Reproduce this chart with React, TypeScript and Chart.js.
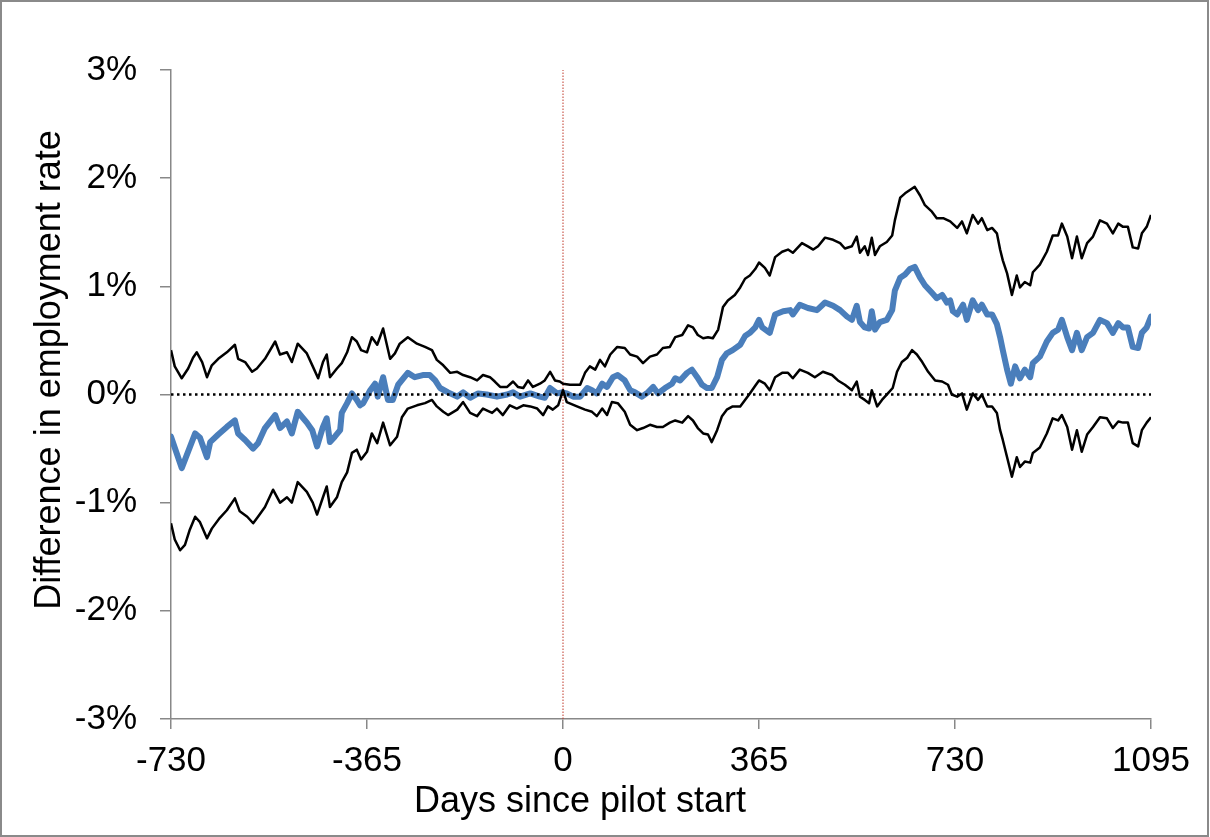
import { useEffect, useRef } from 'react';
import { Chart, registerables } from 'chart.js';

Chart.register(...registerables);

const FONT = '"Liberation Sans", Arial, sans-serif';

const xTickValues = [-730, -365, 0, 365, 730, 1095];
const yTickValues = [-3, -2, -1, 0, 1, 2, 3];
const xTitle = 'Days since pilot start';
const yTitle = 'Difference in employment rate';

const estDays = [
  -730, -710, -685, -676, -663, -657, -642, -626, -611, -605, -592, -577, -568, -555, -536, -527, -514, -505, -494, -477,
  -467, -458, -447, -440, -434, -425, -415, -412, -402, -393, -384, -378, -372, -359, -350, -345, -335, -326, -317, -307,
  -289, -276, -261, -248, -238, -229, -214, -197, -186, -173, -158, -142, -123, -104, -93, -80, -61, -43, -34, -24,
  -11, -2, 7, 19, 32, 45, 54, 63, 73, 82, 93, 102, 115, 125, 134, 147, 158, 168, 177, 190,
  203, 209, 218, 231, 240, 250, 259, 268, 277, 287, 296, 305, 316, 330, 339, 348, 358, 365, 371, 385,
  395, 410, 423, 428, 441, 456, 473, 488, 503, 516, 529, 538, 547, 553, 562, 570, 575, 581, 590, 603,
  613, 618, 628, 637, 646, 655, 665, 674, 687, 696, 706, 715, 721, 726, 734, 745, 752, 763, 773, 780,
  790, 799, 808, 814, 819, 827, 834, 842, 851, 860, 870, 875, 888, 901, 912, 922, 929, 939, 948, 957,
  966, 976, 987, 1000, 1013, 1024, 1034, 1043, 1052, 1061, 1071, 1078, 1087, 1095,
];
const estValues = [
  -0.39, -0.68, -0.36, -0.40, -0.58, -0.44, -0.37, -0.30, -0.24, -0.36, -0.42, -0.50, -0.45, -0.31, -0.19, -0.31, -0.25, -0.36, -0.16, -0.26,
  -0.33, -0.48, -0.30, -0.22, -0.44, -0.39, -0.33, -0.17, -0.08, 0.01, -0.05, -0.10, -0.08, 0.04, 0.10, -0.02, 0.16, -0.05, -0.05, 0.09,
  0.20, 0.16, 0.18, 0.18, 0.13, 0.06, 0.02, -0.02, 0.02, -0.03, 0.01, 0.00, -0.02, 0.00, 0.02, -0.02, 0.01, -0.02, -0.03, 0.06,
  0.01, 0.02, 0.01, -0.02, -0.02, 0.06, 0.04, 0.01, 0.10, 0.07, 0.16, 0.18, 0.13, 0.04, 0.02, -0.02, 0.02, 0.07, 0.01, 0.06,
  0.10, 0.15, 0.13, 0.20, 0.23, 0.16, 0.09, 0.06, 0.06, 0.16, 0.32, 0.38, 0.41, 0.46, 0.54, 0.57, 0.62, 0.69, 0.62, 0.57,
  0.74, 0.77, 0.78, 0.74, 0.83, 0.80, 0.78, 0.85, 0.82, 0.78, 0.72, 0.69, 0.82, 0.67, 0.62, 0.61, 0.77, 0.60, 0.67, 0.69,
  0.78, 0.96, 1.08, 1.11, 1.16, 1.18, 1.08, 1.01, 0.94, 0.89, 0.92, 0.85, 0.87, 0.77, 0.74, 0.83, 0.69, 0.87, 0.78, 0.83,
  0.74, 0.74, 0.65, 0.53, 0.41, 0.23, 0.10, 0.26, 0.15, 0.23, 0.16, 0.29, 0.35, 0.49, 0.57, 0.60, 0.69, 0.53, 0.41, 0.57,
  0.41, 0.53, 0.57, 0.69, 0.66, 0.57, 0.66, 0.62, 0.62, 0.44, 0.43, 0.57, 0.62, 0.72,
];

const upperDays = [
  -730, -723, -710, -698, -689, -682, -672, -663, -654, -642, -626, -611, -605, -592, -579, -570, -555, -536, -527, -514,
  -505, -494, -477, -466, -456, -447, -440, -434, -421, -412, -402, -393, -384, -376, -365, -356, -346, -335, -322, -313,
  -304, -289, -272, -257, -244, -235, -223, -210, -197, -186, -173, -160, -149, -136, -127, -117, -104, -93, -84, -74,
  -65, -56, -43, -34, -24, -15, -6, 0, 13, 32, 41, 50, 60, 69, 78, 88, 101, 115, 125, 138,
  149, 162, 175, 186, 199, 209, 222, 233, 242, 251, 261, 270, 279, 289, 298, 307, 320, 330, 339, 348,
  358, 365, 376, 385, 395, 408, 419, 428, 445, 456, 466, 475, 488, 503, 516, 525, 538, 547, 553, 562,
  568, 575, 581, 590, 603, 613, 618, 628, 637, 646, 655, 665, 674, 687, 696, 708, 721, 734, 743, 752,
  763, 773, 780, 790, 799, 808, 814, 819, 827, 836, 845, 851, 860, 870, 875, 888, 901, 912, 922, 929,
  939, 948, 957, 966, 976, 987, 1000, 1013, 1024, 1034, 1043, 1052, 1061, 1071, 1078, 1087, 1095,
];
const upperValues = [
  0.41, 0.26, 0.15, 0.24, 0.34, 0.39, 0.30, 0.16, 0.27, 0.33, 0.39, 0.46, 0.33, 0.30, 0.21, 0.24, 0.33, 0.49, 0.37, 0.39,
  0.30, 0.47, 0.38, 0.26, 0.15, 0.30, 0.37, 0.16, 0.24, 0.29, 0.39, 0.53, 0.49, 0.41, 0.39, 0.53, 0.46, 0.61, 0.33, 0.38,
  0.47, 0.53, 0.47, 0.44, 0.41, 0.32, 0.27, 0.20, 0.21, 0.18, 0.16, 0.13, 0.18, 0.16, 0.12, 0.07, 0.07, 0.12, 0.07, 0.06,
  0.13, 0.07, 0.10, 0.13, 0.21, 0.13, 0.12, 0.10, 0.09, 0.09, 0.20, 0.26, 0.23, 0.32, 0.26, 0.37, 0.44, 0.43, 0.37, 0.35,
  0.29, 0.35, 0.37, 0.43, 0.44, 0.53, 0.55, 0.64, 0.62, 0.55, 0.52, 0.53, 0.52, 0.60, 0.81, 0.87, 0.92, 0.99, 1.07, 1.10,
  1.16, 1.22, 1.17, 1.10, 1.27, 1.32, 1.34, 1.31, 1.40, 1.37, 1.34, 1.37, 1.45, 1.43, 1.40, 1.35, 1.37, 1.46, 1.31, 1.37,
  1.29, 1.45, 1.29, 1.37, 1.41, 1.47, 1.61, 1.82, 1.86, 1.89, 1.92, 1.84, 1.75, 1.69, 1.63, 1.63, 1.60, 1.54, 1.60, 1.49,
  1.66, 1.58, 1.63, 1.52, 1.54, 1.49, 1.34, 1.24, 1.12, 0.92, 1.10, 0.99, 1.04, 1.01, 1.13, 1.20, 1.32, 1.47, 1.47, 1.58,
  1.46, 1.26, 1.46, 1.26, 1.40, 1.46, 1.61, 1.58, 1.49, 1.58, 1.55, 1.55, 1.36, 1.35, 1.49, 1.55, 1.66,
];

const lowerDays = [
  -730, -723, -713, -704, -695, -685, -676, -663, -654, -639, -626, -611, -602, -588, -577, -568, -555, -540, -527, -514,
  -505, -494, -477, -466, -458, -447, -440, -434, -421, -412, -402, -393, -384, -376, -365, -356, -346, -335, -322, -309,
  -300, -289, -272, -257, -244, -235, -223, -214, -197, -186, -173, -160, -149, -132, -123, -112, -99, -86, -74, -61,
  -48, -37, -28, -19, -9, 0, 7, 26, 41, 54, 63, 73, 82, 91, 102, 115, 125, 138, 149, 162,
  175, 186, 199, 209, 222, 233, 242, 251, 261, 270, 277, 287, 296, 305, 316, 330, 339, 348, 358, 365,
  376, 385, 395, 408, 419, 428, 441, 456, 469, 484, 501, 512, 525, 538, 547, 553, 562, 570, 575, 585,
  594, 605, 614, 622, 631, 641, 650, 659, 669, 680, 693, 706, 717, 724, 734, 743, 752, 763, 773, 780,
  790, 799, 808, 814, 819, 827, 836, 845, 851, 860, 870, 875, 888, 901, 912, 922, 929, 939, 948, 957,
  966, 976, 987, 1000, 1013, 1024, 1034, 1043, 1052, 1061, 1071, 1078, 1087, 1095,
];
const lowerValues = [
  -1.19, -1.34, -1.44, -1.39, -1.25, -1.13, -1.18, -1.33, -1.24, -1.14, -1.07, -0.96, -1.08, -1.13, -1.19, -1.13, -1.04, -0.88, -1.00, -0.95,
  -1.00, -0.81, -0.90, -1.00, -1.11, -0.95, -0.85, -1.04, -0.95, -0.81, -0.72, -0.54, -0.51, -0.60, -0.53, -0.36, -0.45, -0.26, -0.47, -0.39,
  -0.21, -0.13, -0.10, -0.08, -0.05, -0.11, -0.16, -0.19, -0.14, -0.07, -0.17, -0.20, -0.13, -0.17, -0.13, -0.19, -0.10, -0.13, -0.10, -0.11,
  -0.13, -0.19, -0.11, -0.14, -0.10, 0.04, -0.07, -0.11, -0.14, -0.16, -0.20, -0.13, -0.19, -0.07, -0.08, -0.16, -0.28, -0.33, -0.31, -0.28,
  -0.30, -0.30, -0.26, -0.24, -0.26, -0.20, -0.24, -0.31, -0.36, -0.37, -0.44, -0.33, -0.20, -0.14, -0.11, -0.11, -0.05, 0.01, 0.08, 0.13,
  0.10, 0.04, 0.16, 0.20, 0.20, 0.15, 0.23, 0.20, 0.16, 0.21, 0.18, 0.13, 0.09, 0.04, 0.12, -0.02, -0.05, -0.08, 0.04, -0.11,
  -0.05, 0.01, 0.06, 0.21, 0.30, 0.34, 0.41, 0.37, 0.30, 0.21, 0.13, 0.12, 0.09, 0.00, -0.02, 0.01, -0.14, 0.01, -0.05, 0.00,
  -0.11, -0.11, -0.17, -0.33, -0.42, -0.58, -0.76, -0.58, -0.67, -0.62, -0.63, -0.54, -0.49, -0.36, -0.22, -0.24, -0.19, -0.30, -0.51, -0.33,
  -0.53, -0.37, -0.30, -0.21, -0.22, -0.31, -0.25, -0.26, -0.26, -0.45, -0.48, -0.33, -0.26, -0.21,
];

const zeroLineDays = [-730, 1095];
const zeroLineValues = [0, 0];
const pilotLineDays = [0, 0];
const pilotLineValues = [-3, 3];

const toPoints = (xs: number[], ys: number[]) => xs.map((x, i) => ({ x, y: ys[i] }));

const titlesPlugin = {
  id: 'titlesAndFrame',
  afterDraw(chart: any) {
    const ctx = chart.ctx as CanvasRenderingContext2D;
    ctx.save();
    ctx.fillStyle = '#000';
    ctx.font = `36px ${FONT}`;
    ctx.textAlign = 'center';
    ctx.textBaseline = 'alphabetic';
    ctx.fillText(xTitle, 580, 812);
    ctx.translate(60, 370);
    ctx.rotate(-Math.PI / 2);
    ctx.fillText(yTitle, 0, 0);
    ctx.restore();
    ctx.save();
    ctx.strokeStyle = '#8a8a8a';
    ctx.lineWidth = 2;
    ctx.strokeRect(1, 1, 1207, 835);
    ctx.restore();
  },
};

export default function App() {
  const canvasRef = useRef<HTMLCanvasElement | null>(null);

  useEffect(() => {
    const canvas = canvasRef.current;
    if (!canvas) return;
    const chart = new Chart(canvas, {
      type: 'line',
      data: {
        datasets: [
          {
            label: 'zero',
            data: toPoints(zeroLineDays, zeroLineValues),
            borderColor: '#000',
            borderWidth: 2.5,
            borderDash: [2.5, 3.5],
            pointRadius: 0,
            fill: false,
          },
          {
            label: 'upper',
            data: toPoints(upperDays, upperValues),
            borderColor: '#000',
            borderWidth: 2.5,
            pointRadius: 0,
            borderJoinStyle: 'round',
            fill: false,
          },
          {
            label: 'lower',
            data: toPoints(lowerDays, lowerValues),
            borderColor: '#000',
            borderWidth: 2.5,
            pointRadius: 0,
            borderJoinStyle: 'round',
            fill: false,
          },
          {
            label: 'estimate',
            data: toPoints(estDays, estValues),
            borderColor: '#4a7ebb',
            borderWidth: 6,
            pointRadius: 0,
            borderJoinStyle: 'round',
            borderCapStyle: 'round',
            fill: false,
          },
          {
            label: 'pilot',
            data: toPoints(pilotLineDays, pilotLineValues),
            borderColor: '#c0392b',
            borderWidth: 1,
            borderDash: [1.5, 1.5],
            pointRadius: 0,
            fill: false,
          },
        ],
      },
      options: {
        animation: false,
        responsive: false,
        devicePixelRatio: 1,
        parsing: false as any,
        layout: { padding: { top: 70, right: 59, bottom: 0, left: 0 } },
        plugins: {
          legend: { display: false },
          tooltip: { enabled: false },
          title: { display: false },
        },
        scales: {
          x: {
            type: 'linear',
            min: -730,
            max: 1095,
            afterBuildTicks: (s: any) => {
              s.ticks = xTickValues.map((v) => ({ value: v }));
            },
            afterFit: (s: any) => {
              s.height = 118;
            },
            ticks: {
              autoSkip: false,
              maxRotation: 0,
              color: '#000',
              padding: 11,
              font: { family: FONT, size: 35, lineHeight: 1.2 },
              callback: (v: any) => String(v),
            },
            grid: {
              drawOnChartArea: false,
              drawTicks: true,
              tickLength: 10,
              color: '#888',
              lineWidth: 1.5,
            },
            border: { color: '#888', width: 1.5 },
          },
          y: {
            type: 'linear',
            min: -3,
            max: 3,
            afterBuildTicks: (s: any) => {
              s.ticks = yTickValues.map((v) => ({ value: v }));
            },
            afterFit: (s: any) => {
              s.width = 171;
            },
            ticks: {
              color: '#000',
              padding: 23,
              font: { family: FONT, size: 35, lineHeight: 1.2 },
              callback: (v: any) => `${v}%`,
            },
            grid: {
              drawOnChartArea: false,
              drawTicks: true,
              tickLength: 11,
              color: '#888',
              lineWidth: 1.5,
            },
            border: { color: '#888', width: 1.5 },
          },
        },
      },
      plugins: [titlesPlugin],
    });
    return () => chart.destroy();
  }, []);

  return (
    <div style={{ position: 'absolute', left: 0, top: 0, width: 1210, height: 837, background: '#fff' }}>
      <canvas ref={canvasRef} width={1210} height={837} style={{ display: 'block', width: 1210, height: 837 }} />
    </div>
  );
}
